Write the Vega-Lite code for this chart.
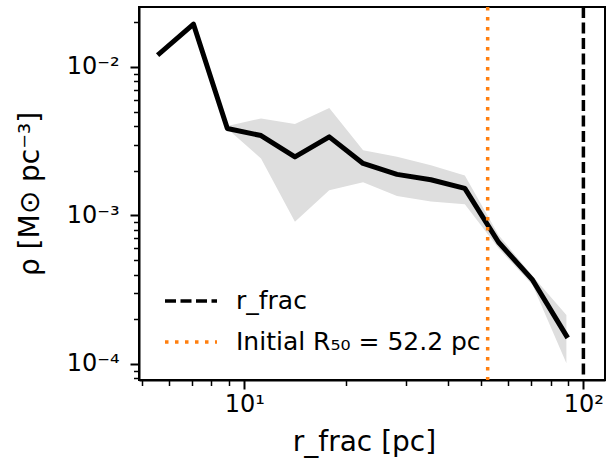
{
  "$schema": "https://vega.github.io/schema/vega-lite/v6.json",
  "width": 466,
  "height": 373,
  "autosize": {"type": "none"},
  "padding": {"left": 139, "top": 7, "right": 2, "bottom": 93},
  "background": "white",
  "config": {
    "font": "DejaVu Sans",
    "view": {"stroke": "black", "strokeWidth": 2},
    "axis": {
      "domainColor": "black",
      "domainWidth": 2,
      "tickColor": "black",
      "labelColor": "black",
      "titleColor": "black",
      "labelFont": "DejaVu Sans",
      "titleFont": "DejaVu Sans",
      "labelFontSize": 24,
      "titleFontSize": 28,
      "titleFontWeight": "normal",
      "grid": false
    }
  },
  "datasets": {
    "profile": [
      {"r": 5.62, "rho": 0.0123},
      {"r": 7.08, "rho": 0.0194},
      {"r": 8.91, "rho": 0.00385},
      {"r": 11.2, "rho": 0.00345},
      {"r": 14.1, "rho": 0.00248},
      {"r": 17.8, "rho": 0.00338},
      {"r": 22.4, "rho": 0.00224},
      {"r": 28.2, "rho": 0.00189},
      {"r": 35.5, "rho": 0.00174},
      {"r": 44.7, "rho": 0.00152},
      {"r": 56.2, "rho": 0.00066},
      {"r": 70.8, "rho": 0.000368},
      {"r": 89.1, "rho": 0.000155}
    ],
    "band": [
      {"r": 8.91, "lo": 0.00383, "hi": 0.0040},
      {"r": 11.2, "lo": 0.00242, "hi": 0.0045},
      {"r": 14.1, "lo": 0.000907, "hi": 0.00412},
      {"r": 17.8, "lo": 0.00148, "hi": 0.00528},
      {"r": 22.4, "lo": 0.00167, "hi": 0.00275},
      {"r": 28.2, "lo": 0.00135, "hi": 0.00248},
      {"r": 35.5, "lo": 0.00124, "hi": 0.00218},
      {"r": 44.7, "lo": 0.00119, "hi": 0.00186},
      {"r": 56.2, "lo": 0.000601, "hi": 0.000738},
      {"r": 70.8, "lo": 0.00034, "hi": 0.000391},
      {"r": 89.1, "lo": 0.000101, "hi": 0.000214}
    ],
    "refs": [
      {"r": 100, "label": "r_frac"},
      {"r": 52.2, "label": "Initial R₅₀ = 52.2 pc"}
    ]
  },
  "layer": [
    {
      "data": {"name": "band"},
      "mark": {"type": "area", "color": "#dedede", "opacity": 1},
      "encoding": {
        "x": {
          "field": "r", "type": "quantitative",
          "scale": {"type": "log", "domain": [4.89, 115.8], "nice": false, "zero": false},
          "axis": {
            "title": "r_frac [pc]",
            "titlePadding": 12,
            "titleX": 225,
            "values": [5, 6, 7, 8, 9, 10, 20, 30, 40, 50, 60, 70, 80, 90, 100],
            "labelExpr": "datum.value == 10 ? '10¹' : datum.value == 100 ? '10²' : ''",
            "labelPadding": 3,
            "labelFlush": false,
            "labelOverlap": false,
            "tickSize": {"condition": {"test": "datum.value == 10 || datum.value == 100", "value": 9}, "value": 5.5},
            "tickWidth": {"condition": {"test": "datum.value == 10 || datum.value == 100", "value": 2}, "value": 1.5}
          }
        },
        "y": {
          "field": "lo", "type": "quantitative",
          "scale": {"type": "log", "domain": [7.8e-5, 0.02532], "nice": false, "zero": false},
          "axis": {
            "title": "ρ [M⊙ pc⁻³]",
            "titlePadding": 22,
            "values": [8e-5, 9e-5, 0.0001, 0.0002, 0.0003, 0.0004, 0.0005, 0.0006, 0.0007, 0.0008, 0.0009, 0.001, 0.002, 0.003, 0.004, 0.005, 0.006, 0.007, 0.008, 0.009, 0.01, 0.02],
            "labelExpr": "datum.value == 0.01 ? '10⁻²' : datum.value == 0.001 ? '10⁻³' : datum.value == 0.0001 ? '10⁻⁴' : ''",
            "labelPadding": 11,
            "labelFlush": false,
            "labelOverlap": false,
            "tickSize": {"condition": {"test": "datum.value == 0.01 || datum.value == 0.001 || datum.value == 0.0001", "value": 9}, "value": 5.5},
            "tickWidth": {"condition": {"test": "datum.value == 0.01 || datum.value == 0.001 || datum.value == 0.0001", "value": 2}, "value": 1.5}
          }
        },
        "y2": {"field": "hi"}
      }
    },
    {
      "data": {"name": "profile"},
      "mark": {"type": "line", "color": "black", "strokeWidth": 5, "strokeJoin": "round", "strokeCap": "square"},
      "encoding": {
        "x": {"field": "r", "type": "quantitative"},
        "y": {"field": "rho", "type": "quantitative"}
      }
    },
    {
      "data": {"name": "refs"},
      "mark": {"type": "rule", "strokeWidth": 3.5},
      "encoding": {
        "x": {"field": "r", "type": "quantitative"},
        "color": {
          "field": "label", "type": "nominal",
          "scale": {"domain": ["r_frac", "Initial R₅₀ = 52.2 pc"], "range": ["black", "#ff7f0e"]},
          "legend": {
            "title": null,
            "orient": "none",
            "legendX": 24,
            "legendY": 266,
            "padding": 0,
            "symbolType": "stroke",
            "symbolSize": 2704,
            "symbolStrokeWidth": 3.5,
            "labelFontSize": 25,
            "labelFont": "DejaVu Sans",
            "labelColor": "black",
            "labelOffset": 17,
            "rowPadding": -12,
            "labelLimit": 400
          }
        },
        "strokeDash": {
          "field": "label", "type": "nominal",
          "scale": {"domain": ["r_frac", "Initial R₅₀ = 52.2 pc"], "range": [[11, 4.5], [3.5, 6.5]]},
          "legend": null
        }
      }
    }
  ]
}
